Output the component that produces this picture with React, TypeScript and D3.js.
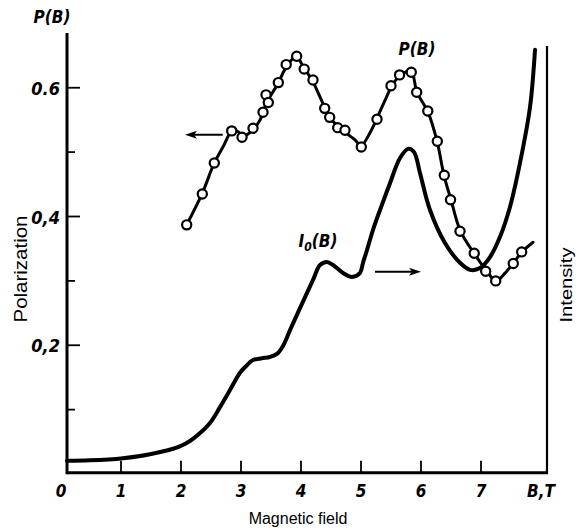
import React from "react";
import * as d3 from "d3";

// x ticks (magnetic field, T)
const xTicks = [0, 1, 2, 3, 4, 5, 6, 7];
const yMajorTicks = [0.2, 0.4, 0.6];
const yMajorLabels = ["0,2", "0,4", "0.6"];
const yMinorTicks = [0.1, 0.3, 0.5];

// P(B) measured points
const pB = [2.095, 2.355, 2.555, 2.845, 3.017, 3.2, 3.367, 3.417, 3.455, 3.622, 3.753, 3.928, 4.053, 4.2, 4.395, 4.478, 4.612, 4.733, 5.005, 5.267, 5.5, 5.643, 5.838, 5.928, 6.113, 6.272, 6.388, 6.492, 6.65, 6.887, 7.078, 7.245, 7.538, 7.678];
const pVal = [0.387, 0.435, 0.483, 0.533, 0.523, 0.537, 0.562, 0.589, 0.577, 0.608, 0.636, 0.649, 0.629, 0.612, 0.568, 0.554, 0.538, 0.534, 0.508, 0.551, 0.603, 0.62, 0.624, 0.593, 0.564, 0.517, 0.464, 0.426, 0.377, 0.343, 0.315, 0.3, 0.327, 0.345];

// P(B) drawn curve
const pLineB = [2.083, 2.35, 2.55, 2.717, 2.833, 2.933, 3.033, 3.183, 3.317, 3.433, 3.6, 3.767, 3.917, 4.05, 4.2, 4.4, 4.533, 4.733, 4.9, 5.0, 5.15, 5.283, 5.417, 5.533, 5.667, 5.833, 5.933, 6.117, 6.267, 6.383, 6.5, 6.65, 6.883, 7.083, 7.25, 7.4, 7.55, 7.683, 7.867];
const pLineVal = [0.385, 0.435, 0.482, 0.511, 0.531, 0.533, 0.525, 0.533, 0.55, 0.578, 0.604, 0.634, 0.648, 0.631, 0.609, 0.569, 0.548, 0.531, 0.519, 0.51, 0.53, 0.556, 0.584, 0.606, 0.62, 0.626, 0.593, 0.562, 0.517, 0.464, 0.426, 0.379, 0.343, 0.317, 0.3, 0.312, 0.329, 0.345, 0.36];

// I0(B) intensity curve (arbitrary units)
const iB = [0.1, 0.483, 1.033, 1.483, 1.95, 2.15, 2.317, 2.483, 2.65, 2.817, 2.983, 3.083, 3.2, 3.35, 3.483, 3.6, 3.7, 3.817, 3.983, 4.2, 4.317, 4.433, 4.533, 4.7, 4.85, 4.983, 5.033, 5.1, 5.2, 5.317, 5.483, 5.65, 5.783, 5.883, 5.983, 6.15, 6.4, 6.65, 6.817, 6.983, 7.15, 7.317, 7.483, 7.65, 7.817, 7.9];
const iVal = [0.03, 0.031, 0.036, 0.045, 0.061, 0.075, 0.093, 0.116, 0.152, 0.191, 0.23, 0.245, 0.259, 0.263, 0.266, 0.273, 0.291, 0.327, 0.377, 0.441, 0.475, 0.482, 0.475, 0.457, 0.448, 0.457, 0.48, 0.509, 0.555, 0.6, 0.661, 0.718, 0.739, 0.732, 0.684, 0.6, 0.525, 0.48, 0.464, 0.468, 0.493, 0.539, 0.607, 0.707, 0.834, 0.964];

const W = 579;
const H = 532;

export default function App() {
  const x = d3.scaleLinear().domain([0, 8]).range([61, 541]);
  const y = d3.scaleLinear().domain([0, 0.7]).range([474, 474 - 0.7 * 643.75]);
  const yI = d3.scaleLinear().domain([0, 1]).range([474, 34]);

  const xLeft = x(0.1);
  const xRight = x(8.1);
  const yBottom = y(0.002);
  const yTop = y(0.685);
  const yRightTop = y(0.665);

  const pLine = d3
    .line<number>()
    .x((_, i) => x(pLineB[i]))
    .y((d) => y(d))
    .curve(d3.curveCatmullRom.alpha(0.5));
  const iLine = d3
    .line<number>()
    .x((_, i) => x(iB[i]))
    .y((d) => yI(d))
    .curve(d3.curveCatmullRom.alpha(0.5));

  const tickFont = "'DejaVu Sans Condensed', 'DejaVu Sans', sans-serif";
  const sansFont = "'Liberation Sans', Arial, sans-serif";

  // arrows (annotation)
  const la = { x1: x(2.695), x2: x(2.067), y: y(0.527) };
  const ra = { x1: x(5.233), x2: x(6.0), y: y(0.314) };

  const tickText = {
    fontFamily: tickFont,
    fontStyle: "italic" as const,
    fontWeight: "bold" as const,
    fontSize: 17,
  };

  return (
    <svg
      width={W}
      height={H}
      style={{ position: "absolute", left: 0, top: 0, background: "#fff" }}
    >
      <rect x={0} y={0} width={W} height={H} fill="#fff" />
      {/* axes */}
      <line x1={xLeft} x2={xLeft} y1={yTop} y2={yBottom + 1.5} stroke="#000" strokeWidth={3} />
      <line x1={xLeft} x2={xRight + 1} y1={yBottom} y2={yBottom} stroke="#000" strokeWidth={3} />
      <line x1={xRight} x2={xRight} y1={yRightTop} y2={yBottom} stroke="#000" strokeWidth={2.2} />

      {/* y ticks */}
      {yMajorTicks.map((t, i) => (
        <g key={"ym" + t}>
          <line x1={xLeft} x2={xLeft + 13} y1={y(t)} y2={y(t)} stroke="#000" strokeWidth={1.8} />
          <text x={xLeft - 7} y={y(t) + 7} textAnchor="end" {...tickText} fontSize={18}>
            {yMajorLabels[i]}
          </text>
        </g>
      ))}
      {yMinorTicks.map((t) => (
        <line key={"yn" + t} x1={xLeft} x2={xLeft + 8} y1={y(t)} y2={y(t)} stroke="#000" strokeWidth={1.8} />
      ))}

      {/* x ticks */}
      {xTicks.map((t) => (
        <g key={"x" + t}>
          {t > 0 && (
            <line x1={x(t)} x2={x(t)} y1={yBottom} y2={yBottom - 12} stroke="#000" strokeWidth={1.8} />
          )}
          <text x={x(t)} y={497} textAnchor="middle" {...tickText}>
            {t}
          </text>
        </g>
      ))}
      <text x={x(8)} y={497} textAnchor="middle" {...tickText}>
        B,T
      </text>

      {/* axis titles */}
      <text x={52} y={23} textAnchor="middle" {...tickText}>
        P(B)
      </text>
      <text x={298} y={524} textAnchor="middle" fontFamily={sansFont} fontSize={16}>
        Magnetic field
      </text>
      <text
        transform={`translate(27,269) rotate(-90)`}
        textAnchor="middle"
        fontFamily={sansFont}
        fontSize={18}
        textLength={107}
        lengthAdjust="spacingAndGlyphs"
      >
        Polarization
      </text>
      <text
        transform={`translate(572,285) rotate(-90)`}
        textAnchor="middle"
        fontFamily={sansFont}
        fontSize={17}
        textLength={75}
        lengthAdjust="spacingAndGlyphs"
      >
        Intensity
      </text>

      {/* curves */}
      <path d={iLine(iVal) || ""} fill="none" stroke="#000" strokeWidth={4} strokeLinejoin="round" strokeLinecap="round" />
      <path d={pLine(pLineVal) || ""} fill="none" stroke="#000" strokeWidth={3} strokeLinejoin="round" strokeLinecap="round" />
      {pVal.map((v, i) => (
        <circle key={"c" + i} cx={x(pB[i])} cy={y(v)} r={4.6} fill="#fff" stroke="#000" strokeWidth={2.2} />
      ))}

      {/* curve labels */}
      <text x={417} y={55} textAnchor="middle" {...tickText}>
        P(B)
      </text>
      <text x={318} y={247} textAnchor="middle" {...tickText}>
        I
        <tspan fontSize={12} dy={4}>0</tspan>
        <tspan dy={-4}>(B)</tspan>
      </text>

      {/* arrows */}
      <line x1={la.x1} x2={la.x2 + 8} y1={la.y} y2={la.y} stroke="#000" strokeWidth={2} />
      <path d={`M${la.x2},${la.y} L${la.x2 + 12},${la.y - 4} L${la.x2 + 9},${la.y} L${la.x2 + 12},${la.y + 4} Z`} fill="#000" />
      <line x1={ra.x1} x2={ra.x2 - 8} y1={ra.y} y2={ra.y} stroke="#000" strokeWidth={2} />
      <path d={`M${ra.x2},${ra.y} L${ra.x2 - 12},${ra.y - 4} L${ra.x2 - 9},${ra.y} L${ra.x2 - 12},${ra.y + 4} Z`} fill="#000" />
    </svg>
  );
}
